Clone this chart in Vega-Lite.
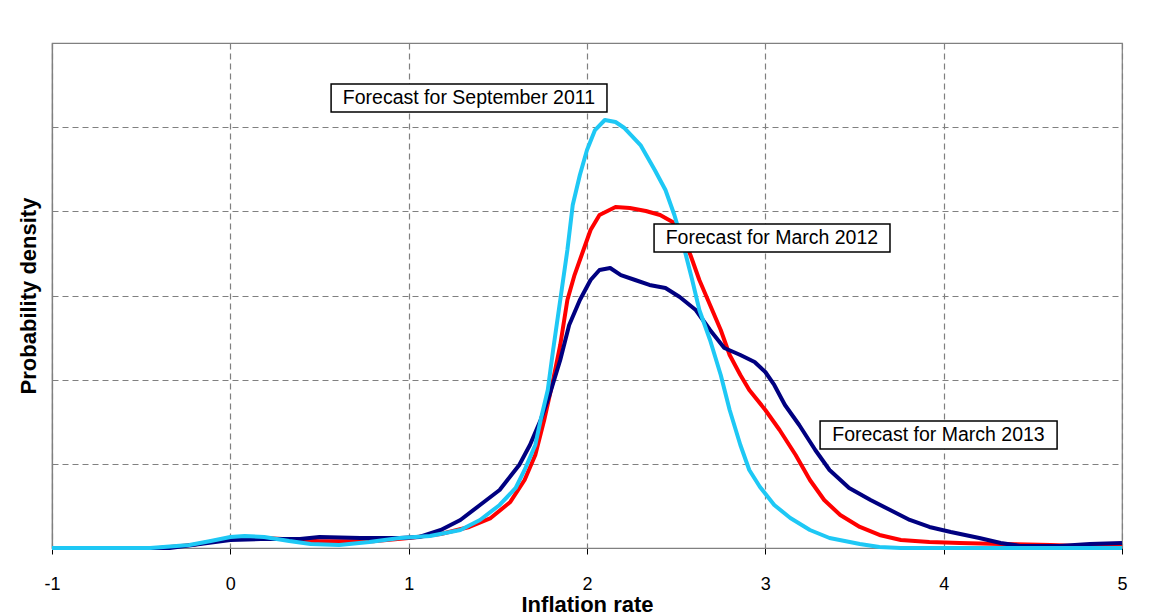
{
  "$schema": "https://vega.github.io/schema/vega-lite/v6.json",
  "width": 1070,
  "height": 505,
  "autosize": "none",
  "padding": {"left": 52, "top": 43, "right": 30, "bottom": 68},
  "background": "white",
  "config": {
    "font": "Liberation Sans",
    "view": {"stroke": "#808080", "strokeWidth": 1.2}
  },
  "datasets": {
    "curves": [
      {"s": "Mar 2012", "x": -1, "y": 0}, {"s": "Mar 2012", "x": -0.4, "y": 0}, {"s": "Mar 2012", "x": -0.2, "y": 0.04}, {"s": "Mar 2012", "x": 0, "y": 0.12}, {"s": "Mar 2012", "x": 0.2, "y": 0.12}, {"s": "Mar 2012", "x": 0.5, "y": 0.08}, {"s": "Mar 2012", "x": 0.8, "y": 0.08}, {"s": "Mar 2012", "x": 1.0, "y": 0.119}, {"s": "Mar 2012", "x": 1.18, "y": 0.166}, {"s": "Mar 2012", "x": 1.34, "y": 0.25}, {"s": "Mar 2012", "x": 1.46, "y": 0.356}, {"s": "Mar 2012", "x": 1.57, "y": 0.547}, {"s": "Mar 2012", "x": 1.65, "y": 0.808}, {"s": "Mar 2012", "x": 1.71, "y": 1.105}, {"s": "Mar 2012", "x": 1.76, "y": 1.521}, {"s": "Mar 2012", "x": 1.81, "y": 1.996}, {"s": "Mar 2012", "x": 1.85, "y": 2.412}, {"s": "Mar 2012", "x": 1.89, "y": 2.946}, {"s": "Mar 2012", "x": 1.93, "y": 3.243}, {"s": "Mar 2012", "x": 1.97, "y": 3.481}, {"s": "Mar 2012", "x": 2.02, "y": 3.778}, {"s": "Mar 2012", "x": 2.07, "y": 3.956}, {"s": "Mar 2012", "x": 2.16, "y": 4.051}, {"s": "Mar 2012", "x": 2.24, "y": 4.039}, {"s": "Mar 2012", "x": 2.33, "y": 4.004}, {"s": "Mar 2012", "x": 2.41, "y": 3.956}, {"s": "Mar 2012", "x": 2.48, "y": 3.873}, {"s": "Mar 2012", "x": 2.53, "y": 3.719}, {"s": "Mar 2012", "x": 2.58, "y": 3.481}, {"s": "Mar 2012", "x": 2.63, "y": 3.184}, {"s": "Mar 2012", "x": 2.69, "y": 2.887}, {"s": "Mar 2012", "x": 2.75, "y": 2.59}, {"s": "Mar 2012", "x": 2.8, "y": 2.293}, {"s": "Mar 2012", "x": 2.86, "y": 2.055}, {"s": "Mar 2012", "x": 2.91, "y": 1.877}, {"s": "Mar 2012", "x": 3.0, "y": 1.64}, {"s": "Mar 2012", "x": 3.08, "y": 1.402}, {"s": "Mar 2012", "x": 3.17, "y": 1.105}, {"s": "Mar 2012", "x": 3.25, "y": 0.808}, {"s": "Mar 2012", "x": 3.33, "y": 0.57}, {"s": "Mar 2012", "x": 3.42, "y": 0.392}, {"s": "Mar 2012", "x": 3.53, "y": 0.25}, {"s": "Mar 2012", "x": 3.64, "y": 0.155}, {"s": "Mar 2012", "x": 3.76, "y": 0.095}, {"s": "Mar 2012", "x": 3.92, "y": 0.071}, {"s": "Mar 2012", "x": 4.09, "y": 0.059}, {"s": "Mar 2012", "x": 4.32, "y": 0.048}, {"s": "Mar 2012", "x": 4.6, "y": 0.036}, {"s": "Mar 2012", "x": 4.76, "y": 0.024}, {"s": "Mar 2012", "x": 5, "y": 0.024},
      {"s": "Mar 2013", "x": -1, "y": 0}, {"s": "Mar 2013", "x": -0.34, "y": 0}, {"s": "Mar 2013", "x": -0.17, "y": 0.048}, {"s": "Mar 2013", "x": 0, "y": 0.095}, {"s": "Mar 2013", "x": 0.17, "y": 0.107}, {"s": "Mar 2013", "x": 0.39, "y": 0.107}, {"s": "Mar 2013", "x": 0.5, "y": 0.131}, {"s": "Mar 2013", "x": 0.73, "y": 0.119}, {"s": "Mar 2013", "x": 0.95, "y": 0.119}, {"s": "Mar 2013", "x": 1.06, "y": 0.131}, {"s": "Mar 2013", "x": 1.18, "y": 0.214}, {"s": "Mar 2013", "x": 1.29, "y": 0.333}, {"s": "Mar 2013", "x": 1.4, "y": 0.511}, {"s": "Mar 2013", "x": 1.51, "y": 0.689}, {"s": "Mar 2013", "x": 1.62, "y": 0.986}, {"s": "Mar 2013", "x": 1.68, "y": 1.224}, {"s": "Mar 2013", "x": 1.74, "y": 1.521}, {"s": "Mar 2013", "x": 1.79, "y": 1.818}, {"s": "Mar 2013", "x": 1.85, "y": 2.234}, {"s": "Mar 2013", "x": 1.9, "y": 2.649}, {"s": "Mar 2013", "x": 1.96, "y": 2.946}, {"s": "Mar 2013", "x": 2.02, "y": 3.184}, {"s": "Mar 2013", "x": 2.07, "y": 3.303}, {"s": "Mar 2013", "x": 2.13, "y": 3.327}, {"s": "Mar 2013", "x": 2.19, "y": 3.243}, {"s": "Mar 2013", "x": 2.27, "y": 3.184}, {"s": "Mar 2013", "x": 2.35, "y": 3.125}, {"s": "Mar 2013", "x": 2.44, "y": 3.089}, {"s": "Mar 2013", "x": 2.52, "y": 2.982}, {"s": "Mar 2013", "x": 2.61, "y": 2.828}, {"s": "Mar 2013", "x": 2.69, "y": 2.59}, {"s": "Mar 2013", "x": 2.77, "y": 2.376}, {"s": "Mar 2013", "x": 2.86, "y": 2.293}, {"s": "Mar 2013", "x": 2.94, "y": 2.21}, {"s": "Mar 2013", "x": 3.0, "y": 2.091}, {"s": "Mar 2013", "x": 3.05, "y": 1.937}, {"s": "Mar 2013", "x": 3.11, "y": 1.699}, {"s": "Mar 2013", "x": 3.19, "y": 1.461}, {"s": "Mar 2013", "x": 3.28, "y": 1.164}, {"s": "Mar 2013", "x": 3.36, "y": 0.927}, {"s": "Mar 2013", "x": 3.47, "y": 0.713}, {"s": "Mar 2013", "x": 3.59, "y": 0.57}, {"s": "Mar 2013", "x": 3.7, "y": 0.451}, {"s": "Mar 2013", "x": 3.81, "y": 0.333}, {"s": "Mar 2013", "x": 3.92, "y": 0.25}, {"s": "Mar 2013", "x": 4.04, "y": 0.19}, {"s": "Mar 2013", "x": 4.2, "y": 0.119}, {"s": "Mar 2013", "x": 4.32, "y": 0.059}, {"s": "Mar 2013", "x": 4.43, "y": 0.024}, {"s": "Mar 2013", "x": 4.65, "y": 0.024}, {"s": "Mar 2013", "x": 4.82, "y": 0.048}, {"s": "Mar 2013", "x": 5, "y": 0.059},
      {"s": "Sep 2011", "x": -1, "y": 0}, {"s": "Sep 2011", "x": -0.45, "y": 0}, {"s": "Sep 2011", "x": -0.23, "y": 0.036}, {"s": "Sep 2011", "x": -0.11, "y": 0.083}, {"s": "Sep 2011", "x": 0, "y": 0.131}, {"s": "Sep 2011", "x": 0.08, "y": 0.143}, {"s": "Sep 2011", "x": 0.19, "y": 0.131}, {"s": "Sep 2011", "x": 0.33, "y": 0.083}, {"s": "Sep 2011", "x": 0.45, "y": 0.048}, {"s": "Sep 2011", "x": 0.61, "y": 0.036}, {"s": "Sep 2011", "x": 0.78, "y": 0.071}, {"s": "Sep 2011", "x": 0.95, "y": 0.119}, {"s": "Sep 2011", "x": 1.12, "y": 0.143}, {"s": "Sep 2011", "x": 1.29, "y": 0.214}, {"s": "Sep 2011", "x": 1.4, "y": 0.333}, {"s": "Sep 2011", "x": 1.51, "y": 0.511}, {"s": "Sep 2011", "x": 1.6, "y": 0.713}, {"s": "Sep 2011", "x": 1.65, "y": 0.927}, {"s": "Sep 2011", "x": 1.71, "y": 1.224}, {"s": "Sep 2011", "x": 1.74, "y": 1.521}, {"s": "Sep 2011", "x": 1.78, "y": 1.877}, {"s": "Sep 2011", "x": 1.81, "y": 2.352}, {"s": "Sep 2011", "x": 1.85, "y": 2.946}, {"s": "Sep 2011", "x": 1.89, "y": 3.54}, {"s": "Sep 2011", "x": 1.92, "y": 4.075}, {"s": "Sep 2011", "x": 1.96, "y": 4.432}, {"s": "Sep 2011", "x": 2.0, "y": 4.729}, {"s": "Sep 2011", "x": 2.045, "y": 4.966}, {"s": "Sep 2011", "x": 2.1, "y": 5.085}, {"s": "Sep 2011", "x": 2.16, "y": 5.061}, {"s": "Sep 2011", "x": 2.21, "y": 4.99}, {"s": "Sep 2011", "x": 2.3, "y": 4.788}, {"s": "Sep 2011", "x": 2.38, "y": 4.491}, {"s": "Sep 2011", "x": 2.44, "y": 4.253}, {"s": "Sep 2011", "x": 2.49, "y": 3.956}, {"s": "Sep 2011", "x": 2.54, "y": 3.6}, {"s": "Sep 2011", "x": 2.59, "y": 3.184}, {"s": "Sep 2011", "x": 2.63, "y": 2.828}, {"s": "Sep 2011", "x": 2.69, "y": 2.471}, {"s": "Sep 2011", "x": 2.75, "y": 2.055}, {"s": "Sep 2011", "x": 2.8, "y": 1.64}, {"s": "Sep 2011", "x": 2.86, "y": 1.224}, {"s": "Sep 2011", "x": 2.91, "y": 0.927}, {"s": "Sep 2011", "x": 2.97, "y": 0.725}, {"s": "Sep 2011", "x": 3.05, "y": 0.511}, {"s": "Sep 2011", "x": 3.14, "y": 0.356}, {"s": "Sep 2011", "x": 3.25, "y": 0.214}, {"s": "Sep 2011", "x": 3.36, "y": 0.119}, {"s": "Sep 2011", "x": 3.53, "y": 0.048}, {"s": "Sep 2011", "x": 3.64, "y": 0.012}, {"s": "Sep 2011", "x": 3.76, "y": 0}, {"s": "Sep 2011", "x": 5, "y": 0}
    ],
    "labels": [
      {"label": "Forecast for September 2011", "x1": 0.565, "x2": 2.112, "y1": 5.513, "y2": 5.18, "xc": 1.338, "yc": 5.346},
      {"label": "Forecast  for March 2012", "x1": 2.376, "x2": 3.699, "y1": 3.849, "y2": 3.517, "xc": 3.037, "yc": 3.683},
      {"label": "Forecast  for March 2013", "x1": 3.307, "x2": 4.636, "y1": 1.509, "y2": 1.176, "xc": 3.971, "yc": 1.343}
    ]
  },
  "layer": [
    {
      "data": {"name": "curves"},
      "transform": [{"filter": "datum.s === 'Mar 2012'"}],
      "mark": {"type": "line", "color": "#FF0000", "strokeWidth": 4, "strokeJoin": "round"},
      "encoding": {
        "x": {
          "field": "x", "type": "quantitative",
          "scale": {"domain": [-1, 5], "nice": false, "zero": false},
          "axis": {
            "title": "Inflation rate", "values": [-1, 0, 1, 2, 3, 4, 5],
            "labelExpr": "'' + datum.value", "labelFlush": false,
            "grid": true, "gridColor": "#808080", "gridDash": [6, 4], "gridOpacity": 1, "gridWidth": 1.2,
            "domainColor": "#808080", "domainWidth": 1.2, "tickColor": "#000000", "tickSize": 6,
            "labelFontSize": 18, "labelColor": "#000000", "labelPadding": 21,
            "titleFontSize": 22, "titleFontWeight": "bold", "titleColor": "#000000", "titlePadding": 1
          }
        },
        "y": {
          "field": "y", "type": "quantitative",
          "scale": {"domain": [0, 6], "nice": false},
          "axis": {
            "title": "Probability density", "values": [0, 1, 2, 3, 4, 5, 6],
            "labels": false, "ticks": false,
            "grid": true, "gridColor": "#808080", "gridDash": [6, 4], "gridOpacity": 1, "gridWidth": 1.2,
            "domainColor": "#808080", "domainWidth": 1.2,
            "titleFontSize": 22, "titleFontWeight": "bold", "titleColor": "#000000", "titlePadding": 12
          }
        }
      }
    },
    {
      "data": {"name": "curves"},
      "transform": [{"filter": "datum.s === 'Mar 2013'"}],
      "mark": {"type": "line", "color": "#000080", "strokeWidth": 4, "strokeJoin": "round"},
      "encoding": {"x": {"field": "x", "type": "quantitative"}, "y": {"field": "y", "type": "quantitative"}}
    },
    {
      "data": {"name": "curves"},
      "transform": [{"filter": "datum.s === 'Sep 2011'"}],
      "mark": {"type": "line", "color": "#1EC8F5", "strokeWidth": 4, "strokeJoin": "round"},
      "encoding": {"x": {"field": "x", "type": "quantitative"}, "y": {"field": "y", "type": "quantitative"}}
    },
    {
      "data": {"name": "labels"},
      "mark": {"type": "rect", "fill": "white", "stroke": "black", "strokeWidth": 1.5},
      "encoding": {
        "x": {"field": "x1", "type": "quantitative"}, "x2": {"field": "x2"},
        "y": {"field": "y1", "type": "quantitative"}, "y2": {"field": "y2"}
      }
    },
    {
      "data": {"name": "labels"},
      "mark": {"type": "text", "fontSize": 19.5, "color": "black", "align": "center", "baseline": "middle"},
      "encoding": {
        "x": {"field": "xc", "type": "quantitative"},
        "y": {"field": "yc", "type": "quantitative"},
        "text": {"field": "label"}
      }
    }
  ]
}
